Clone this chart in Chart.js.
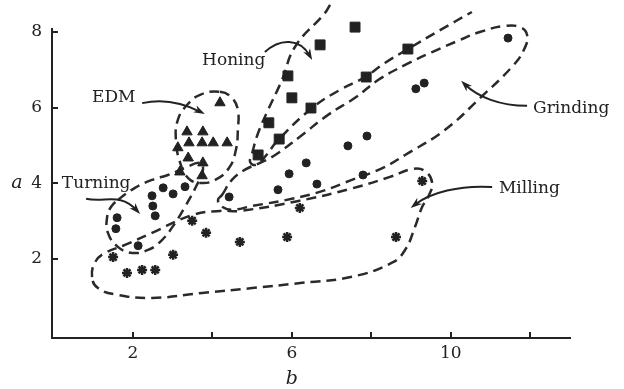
<!DOCTYPE html>
<html>
<head>
<meta charset="utf-8">
<script src="https://cdn.jsdelivr.net/npm/chart.js@4.4.1/dist/chart.umd.min.js"></script>
<style>
  html, body { margin: 0; padding: 0; background: #fff; }
  #wrap { width: 624px; height: 389px; }
</style>
</head>
<body>
<div id="wrap"><canvas id="chart" width="624" height="389"></canvas></div>
<script>
// Points, as [b, a]
const turning = [[1.60, 3.09], [1.57, 2.80], [2.48, 3.67], [2.50, 3.40], [2.56, 3.14],
                 [2.76, 3.88], [3.01, 3.72], [3.31, 3.91], [2.13, 2.35]];
const edm = [[4.19, 6.13], [3.36, 5.36], [3.76, 5.36], [3.41, 5.07], [3.74, 5.07], [4.02, 5.07],
             [4.37, 5.07], [3.13, 4.94], [3.39, 4.67], [3.76, 4.54], [3.18, 4.30], [3.74, 4.20]];
const honing = [[7.59, 8.13], [6.71, 7.66], [5.90, 6.84], [6.00, 6.26], [6.48, 5.99],
                [5.42, 5.60], [5.68, 5.17], [5.15, 4.75], [7.87, 6.81], [8.92, 7.55]];
const grinding = [[4.42, 3.64], [5.65, 3.83], [5.93, 4.25], [6.36, 4.54], [6.63, 3.98], [7.41, 4.99],
                  [7.89, 5.25], [7.79, 4.22], [9.12, 6.50], [9.33, 6.65], [11.44, 7.84]];
const milling = [[1.50, 2.05], [1.85, 1.63], [2.23, 1.71], [2.56, 1.71], [3.01, 2.11], [3.49, 3.01],
                 [3.84, 2.69], [4.69, 2.45], [5.88, 2.58], [6.20, 3.35], [8.62, 2.58], [9.28, 4.06]];

// Hand-drawn dashed outlines round each group
const turningOutline = [[1.62, 3.56], [2.05, 3.88], [2.48, 4.09], [2.88, 4.22], [3.31, 4.41], [3.69, 4.54],
                        [3.76, 4.35], [3.61, 3.96], [3.31, 3.38], [3.06, 2.95], [2.73, 2.50], [2.38, 2.24],
                        [1.98, 2.16], [1.62, 2.32], [1.37, 2.69], [1.35, 3.11], [1.45, 3.38]];
const edmOutline = [[4.19, 6.42], [4.49, 6.26], [4.64, 5.94], [4.64, 5.41], [4.59, 4.88], [4.42, 4.41],
                    [4.07, 4.09], [3.69, 4.01], [3.39, 4.14], [3.18, 4.57], [3.08, 5.15], [3.13, 5.68],
                    [3.36, 6.07], [3.69, 6.34]];
const honingOutline = [[6.96, 8.72], [6.83, 8.50], [6.08, 7.61], [5.75, 6.73], [5.40, 5.94], [5.15, 5.33],
                       [5.00, 4.80], [4.95, 4.56], [5.10, 4.49], [5.32, 4.70], [5.65, 5.14], [6.51, 5.99],
                       [7.21, 6.47], [7.84, 6.81], [8.34, 7.18], [8.92, 7.55], [9.73, 8.05], [10.53, 8.53]];
const grindingOutline = [[4.24, 3.69], [4.49, 4.09], [4.82, 4.36], [5.20, 4.54], [5.58, 4.75], [6.20, 5.23],
                         [6.91, 5.81], [7.59, 6.26], [8.17, 6.73], [8.85, 7.13], [9.53, 7.47], [10.23, 7.79],
                         [10.73, 8.00], [11.36, 8.16], [11.74, 8.13], [11.92, 7.92], [11.84, 7.53],
                         [11.54, 7.08], [10.74, 6.26], [9.85, 5.41], [8.85, 4.75], [8.29, 4.41], [7.46, 4.07],
                         [6.78, 3.80], [6.00, 3.59], [5.00, 3.40], [4.49, 3.30], [4.24, 3.38], [4.14, 3.56]];
const millingOutline = [[0.97, 1.52], [1.05, 1.92], [1.30, 2.16], [1.80, 2.37], [2.48, 2.69], [3.49, 3.16],
                        [4.19, 3.27], [4.69, 3.27], [6.20, 3.54], [7.46, 3.85], [8.47, 4.17], [9.05, 4.38],
                        [9.35, 4.32], [9.53, 4.01], [9.43, 3.64], [9.28, 3.38], [9.10, 2.85], [8.85, 2.24],
                        [8.52, 1.90], [7.51, 1.53], [6.26, 1.37], [5.00, 1.23], [3.74, 1.10], [2.48, 0.97],
                        [1.62, 1.05], [1.12, 1.23]];

// Tick labels
const xTickValues = [2, 4, 6, 8, 10, 12];
const xTickLabels = ['2', '', '6', '', '10', ''];
const yTickValues = [2, 4, 6, 8];
const yTickLabels = ['2', '4', '6', '8'];

// Callout text and arrows (data units)
const noteNames = ['Honing', 'EDM', 'Turning', 'Grinding', 'Milling'];
const noteAnchors = [[3.74, 7.13], [0.97, 6.15], [0.21, 3.88], [12.07, 5.86], [11.21, 3.75]];
const arrowPaths = [
    [[5.32, 7.47], [5.70, 7.84], [6.20, 7.84], [6.51, 7.26]],
    [[2.23, 6.12], [2.81, 6.26], [3.31, 6.10], [3.81, 5.83]],
    [[0.82, 3.59], [1.30, 3.48], [1.67, 3.77], [2.18, 3.19]],
    [[11.92, 6.05], [11.24, 6.05], [10.68, 6.28], [10.26, 6.71]],
    [[11.04, 3.90], [10.23, 3.96], [9.48, 3.75], [8.99, 3.35]]
];

const ink = '#222';
const serif = '"DejaVu Serif", "Liberation Serif", serif';

function toXY(pts) {
    return pts.map(([b, a]) => ({ x: b, y: a }));
}

function markerSet(pts, style, radius, border) {
    return {
        data: toXY(pts),
        showLine: false,
        pointStyle: style,
        pointRadius: radius,
        pointBackgroundColor: ink,
        pointBorderColor: ink,
        pointBorderWidth: border,
        clip: false
    };
}

function dashedSet(pts) {
    return {
        data: toXY(pts),
        showLine: true,
        pointRadius: 0,
        borderColor: '#2a2a2a',
        borderWidth: 2.5,
        borderDash: [10, 6],
        tension: 0.45,
        fill: false,
        clip: false
    };
}

// Closed loop: wrap the ends so the curve stays smooth, hide the overlap
function loopSet(pts) {
    const n = pts.length;
    const ring = [pts[n - 1], ...pts, pts[0], pts[1]];
    const last = ring.length - 2;
    const set = dashedSet(ring);
    set.segment = {
        borderColor: c => (c.p0DataIndex === 0 || c.p0DataIndex === last) ? 'rgba(0,0,0,0)' : '#2a2a2a'
    };
    return set;
}

// Inward ticks, callouts, axis letters
const decor = {
    id: 'decor',
    afterDraw(chart) {
        const { ctx, chartArea: area } = chart;
        const x = chart.scales.x, y = chart.scales.y;
        const px = p => [x.getPixelForValue(p[0]), y.getPixelForValue(p[1])];
        ctx.save();
        ctx.strokeStyle = ink;
        ctx.fillStyle = ink;
        ctx.lineWidth = 2;

        ctx.beginPath();
        xTickValues.forEach(v => {
            const X = Math.round(x.getPixelForValue(v));
            ctx.moveTo(X, area.bottom);
            ctx.lineTo(X, area.bottom - 6);
        });
        yTickValues.forEach(v => {
            const Y = Math.round(y.getPixelForValue(v));
            ctx.moveTo(area.left, Y);
            ctx.lineTo(area.left + 6, Y);
        });
        ctx.stroke();

        ctx.font = '17px ' + serif;
        ctx.textBaseline = 'alphabetic';
        ctx.textAlign = 'left';
        noteNames.forEach((t, i) => {
            const [X, Y] = px(noteAnchors[i]);
            ctx.fillText(t, X, Y);
        });

        arrowPaths.forEach(path => {
            const p = path.map(px);
            const ang = Math.atan2(p[3][1] - p[2][1], p[3][0] - p[2][0]);
            ctx.lineWidth = 2;
            ctx.beginPath();
            ctx.moveTo(p[0][0], p[0][1]);
            ctx.bezierCurveTo(p[1][0], p[1][1], p[2][0], p[2][1],
                p[3][0] - 5 * Math.cos(ang), p[3][1] - 5 * Math.sin(ang));
            ctx.stroke();
            ctx.beginPath();
            ctx.moveTo(p[3][0], p[3][1]);
            ctx.lineTo(p[3][0] - 12 * Math.cos(ang - 0.33), p[3][1] - 12 * Math.sin(ang - 0.33));
            ctx.lineTo(p[3][0] - 8 * Math.cos(ang), p[3][1] - 8 * Math.sin(ang));
            ctx.lineTo(p[3][0] - 12 * Math.cos(ang + 0.33), p[3][1] - 12 * Math.sin(ang + 0.33));
            ctx.closePath();
            ctx.fill();
        });

        ctx.font = 'italic 19px ' + serif;
        ctx.textAlign = 'center';
        ctx.fillText('a', 17, y.getPixelForValue(4) + 5);
        ctx.fillText('b', x.getPixelForValue(6), chart.height - 5);
        ctx.restore();
    }
};

Chart.defaults.font.family = serif;
Chart.defaults.font.size = 17;
Chart.defaults.color = ink;

new Chart(document.getElementById('chart'), {
    type: 'scatter',
    data: {
        datasets: [
            markerSet(turning, 'circle', 4, 1),
            markerSet(edm, 'triangle', 6, 1),
            markerSet(honing, 'rect', 7, 1),
            markerSet(grinding, 'circle', 4, 1),
            markerSet(milling, 'star', 5, 2.5),
            loopSet(turningOutline),
            loopSet(edmOutline),
            dashedSet(honingOutline),
            loopSet(grindingOutline),
            loopSet(millingOutline)
        ]
    },
    options: {
        responsive: false,
        devicePixelRatio: 1,
        animation: false,
        events: [],
        layout: { padding: { top: 29, right: 54, bottom: 0, left: 0 } },
        elements: { line: { capBezierPoints: false } },
        plugins: { legend: { display: false }, tooltip: { enabled: false } },
        scales: {
            x: {
                type: 'linear',
                min: -0.038,
                max: 13,
                afterBuildTicks: s => { s.ticks = xTickValues.map(v => ({ value: v })); },
                afterFit: s => { s.height = 51; },
                grid: { display: false, drawTicks: false },
                border: { display: true, color: ink, width: 2 },
                ticks: { padding: 5, color: ink, callback: (v, i) => xTickLabels[i] }
            },
            y: {
                type: 'linear',
                min: -0.09,
                max: 8.08,
                afterBuildTicks: s => { s.ticks = yTickValues.map(v => ({ value: v })); },
                afterFit: s => { s.width = 52; },
                grid: { display: false, drawTicks: false },
                border: { display: true, color: ink, width: 2 },
                ticks: { padding: 10, color: ink, callback: (v, i) => yTickLabels[i] }
            }
        }
    },
    plugins: [decor]
});
</script>
</body>
</html>
